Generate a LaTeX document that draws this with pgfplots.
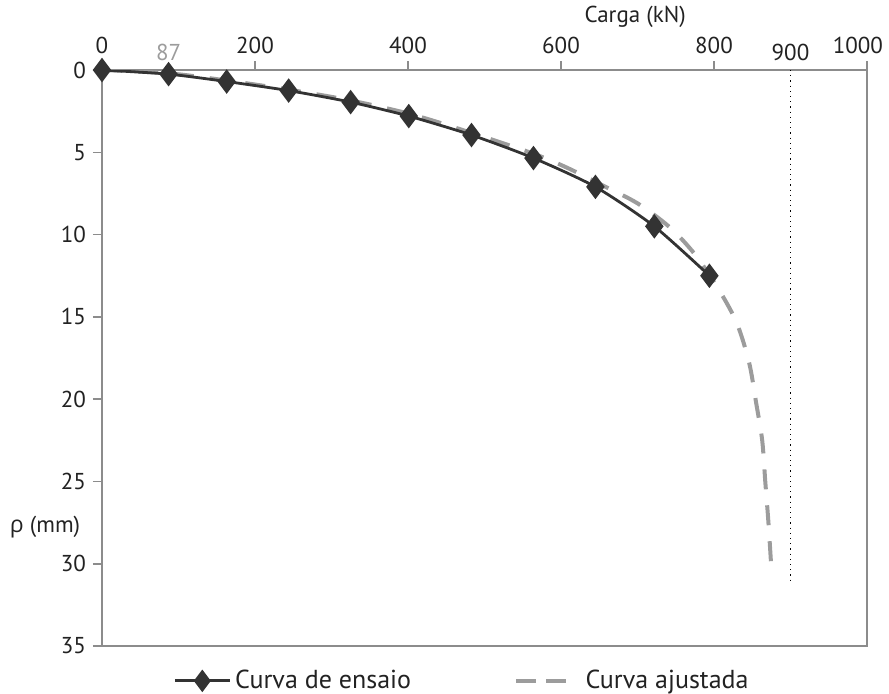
\documentclass[border=0pt]{standalone}
\usepackage{fontspec}
\setmainfont{PT Sans}
\newfontfamily\grk{Open Sans}
\usepackage{pgfplots}
\pgfplotsset{compat=1.18}
\definecolor{axgray}{HTML}{8C8C8C}
\definecolor{datdark}{HTML}{333333}
\definecolor{fitgray}{HTML}{9C9C9C}
\definecolor{txt}{HTML}{222222}
\pgfplotsset{
  wide line legend/.style={legend image code/.code={
    \draw[##1, mark=none] (0pt,0pt) -- (27.5pt,0pt);
    \draw[##1, only marks, mark size=4.5pt] plot coordinates {(13.75pt,0pt)};
  }},
  fit legend/.style={legend image code/.code={
    \draw[fitgray, line width=2pt, dash pattern=on 10pt off 5pt] (0pt,0pt) -- (25pt,0pt);
    \path (32.5pt,0pt);
  }},
}

\begin{document}
\begin{tikzpicture}
\useasboundingbox (-51pt,-23.5pt) rectangle (393.5pt,323pt);
\begin{axis}[
  scale only axis, width=382.5pt, height=288pt,
  xmin=0, xmax=1000, ymin=0, ymax=35, y dir=reverse,
  axis line style={axgray, line width=0.8pt},
  xtick={0,200,...,1000}, ytick={0,5,...,35},
  xticklabels={0,200,400,600,800,{\makebox[16pt][r]{1000}}},
  xtick pos=right, xticklabel pos=right, ytick pos=left,
  tick align=outside, major tick length=4.5pt,
  tick style={axgray, line width=0.8pt},
  /pgf/number format/assume math mode=true,
  /pgf/number format/1000 sep={},
  tick label style={font=\fontsize{11.5}{13}\selectfont, text=txt},
  extra x ticks={87,900},
  extra x tick labels={{\textcolor{fitgray}{87}},900},
  extra x tick style={tick style={draw=none}, xticklabel style={yshift=-3.5pt}},
  xlabel={Carga (kN)},
  xlabel style={font=\fontsize{11.5}{13}\selectfont, text=txt,
    at={(axis description cs:0.697,1.092)}, anchor=center},
  ylabel={{\grk ρ} (mm)},
  ylabel style={font=\fontsize{11.5}{13}\selectfont, text=txt,
    rotate=-90, at={(axis description cs:-0.0745,0.207)}, anchor=center},
  legend columns=2,
  legend style={draw=none, fill=none, font=\fontsize{13}{15}\selectfont, text=txt,
    at={(axis description cs:0.085,-0.0605)}, anchor=west,
    nodes={inner xsep=2pt},
    /tikz/every even column/.append style={column sep=49.5pt}},
]
% curva ajustada (drawn first, behind the test curve)
\addplot[fitgray, line width=2pt, dash pattern=on 10pt off 8pt, smooth, forget plot] coordinates {
 (0,0) (87,0.2) (165,0.65) (245,1.2) (325,1.85) (405,2.7) (485,3.85)
 (565,5.1) (609,5.96) (654,7.0) (700,8.1) (742,9.55) (775,11.2) (807,13.4)
 (830,15.4) (846,17.8) (855,20.2) (863,22.5) (867,25) (871,27.4) (875,30.3)
};
% curva de ensaio
\addplot[datdark, line width=1.4pt, smooth, tension=0.4, mark=diamond*, mark size=5pt,
  mark options={solid, fill=datdark}, wide line legend] coordinates {
 (0,0) (87,0.25) (163,0.7) (244,1.25) (325,1.95) (401,2.8) (483,3.95)
 (564,5.35) (645,7.1) (722,9.5) (794,12.5)
};
\addlegendentry{Curva de ensaio}
\addlegendimage{fit legend}
\addlegendentry{Curva ajustada}
% carga de ruptura
\addplot[black, line width=0.6pt, dotted, forget plot] coordinates {(900,0) (900,31)};
\end{axis}
\end{tikzpicture}
\end{document}
